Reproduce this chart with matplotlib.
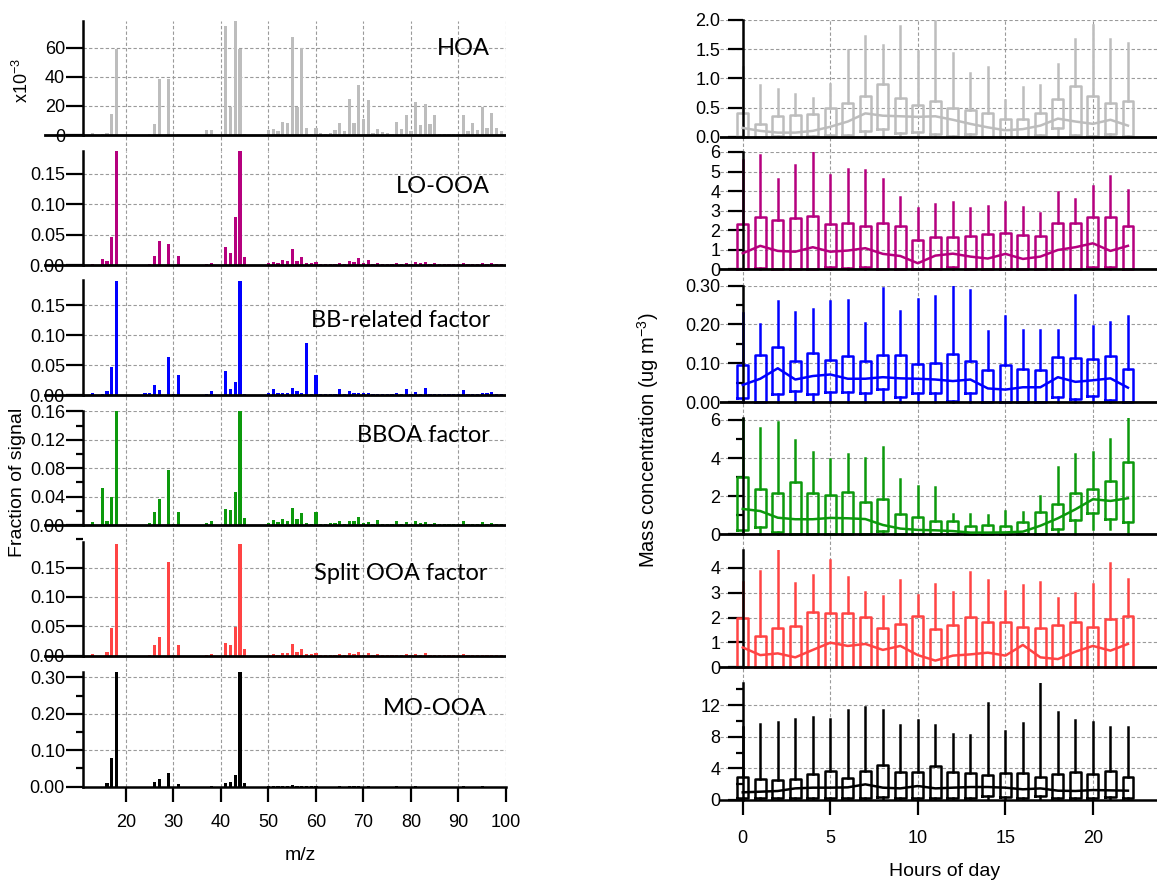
import numpy as np
import matplotlib
matplotlib.use("Agg")
import matplotlib.pyplot as plt
from matplotlib.ticker import MultipleLocator, NullLocator, FormatStrFormatter

plt.rcParams["font.family"] = ["Liberation Sans", "DejaVu Sans"]
plt.rcParams["mathtext.default"] = "regular"

W, H = 1157, 881

# ---------------- mass spectra (m/z 13 .. 99) ----------------
mz = np.arange(13, 100)

hoa = [  # x1e-3
    1.5, 0, 0.5, 1.5, 14.5, 59, 0, 0, 0, 0,
    0, 0, 0.5, 7.5, 38.5, 0, 38.5, 0, 0.5, 0,
    0, 0, 0, 0, 3.5, 3.5, 0, 0, 74.8, 19.5,
    78.5, 58.8, 0.5, 0, 0, 0, 0, 3.5, 4, 2.5,
    9, 8.5, 67.5, 19.5, 60, 5, 0.5, 5, 1.5, 1,
    1.5, 3.5, 8.5, 3, 25, 8, 34.5, 11, 24, 1.5,
    4, 2, 1.5, 0.5, 9, 4, 13.5, 2.5, 22.5, 7,
    21, 7.5, 13.5, 1, 0.5, 0.5, 1, 1, 13.5, 3,
    8.5, 3.5, 19, 4.5, 15, 4.5, 3,
]
lo_ooa = [
    0.001, 0, 0.010, 0.006, 0.046, 0.187, 0, 0, 0, 0,
    0, 0, 0.002, 0.015, 0.040, 0, 0.034, 0, 0.015, 0,
    0, 0, 0, 0, 0.002, 0.004, 0, 0, 0.030, 0.020,
    0.078, 0.187, 0.013, 0, 0, 0, 0, 0.003, 0.005, 0.003,
    0.008, 0.006, 0.027, 0.006, 0.013, 0.003, 0.003, 0.005, 0.001, 0.001,
    0.002, 0.001, 0.004, 0.001, 0.006, 0.005, 0.012, 0.003, 0.008, 0.001,
    0.003, 0.001, 0.001, 0.001, 0.004, 0.002, 0.004, 0.001, 0.005, 0.003,
    0.005, 0.002, 0.004, 0.001, 0.001, 0.001, 0.001, 0.001, 0.004, 0.002,
    0.002, 0.002, 0.004, 0.002, 0.003, 0.002, 0.002,
]
bb_related = [
    0.003, 0, 0.001, 0.006, 0.047, 0.19, 0, 0, 0, 0,
    0, 0.003, 0.003, 0.016, 0.009, 0, 0.064, 0.001, 0.034, 0,
    0, 0, 0, 0, 0.002, 0.006, 0, 0, 0.040, 0.010,
    0.022, 0.19, 0.001, 0, 0, 0, 0, 0.003, 0.010, 0.003,
    0.004, 0.003, 0.012, 0.007, 0.004, 0.086, 0.001, 0.034, 0.001, 0.001,
    0.002, 0.001, 0.010, 0.002, 0.006, 0.004, 0.004, 0.003, 0.003, 0.001,
    0.001, 0.001, 0.002, 0.001, 0.004, 0.002, 0.010, 0.001, 0.005, 0.001,
    0.012, 0.001, 0.001, 0.001, 0.001, 0.001, 0.001, 0.001, 0.008, 0.002,
    0.002, 0.001, 0.003, 0.003, 0.005, 0.001, 0.001,
]
bboa = [
    0.004, 0, 0.052, 0.005, 0.039, 0.16, 0, 0, 0, 0,
    0, 0, 0.003, 0.019, 0.037, 0, 0.078, 0.001, 0.018, 0,
    0, 0, 0, 0, 0.003, 0.005, 0, 0, 0.023, 0.021,
    0.047, 0.16, 0.010, 0, 0, 0, 0, 0.003, 0.007, 0.004,
    0.008, 0.005, 0.024, 0.008, 0.017, 0.003, 0.002, 0.018, 0.001, 0.001,
    0.003, 0.003, 0.006, 0.002, 0.006, 0.005, 0.011, 0.003, 0.004, 0.001,
    0.007, 0.001, 0.001, 0.001, 0.005, 0.002, 0.004, 0.001, 0.005, 0.003,
    0.004, 0.002, 0.003, 0.001, 0.001, 0.001, 0.001, 0.001, 0.005, 0.001,
    0.002, 0.002, 0.004, 0.002, 0.003, 0.001, 0.001,
]
split_ooa = [
    0.003, 0, 0, 0.006, 0.047, 0.19, 0, 0, 0, 0,
    0, 0, 0.002, 0.018, 0.031, 0, 0.16, 0.002, 0.019, 0,
    0, 0, 0, 0, 0.001, 0.003, 0, 0, 0.022, 0.018,
    0.049, 0.19, 0.012, 0, 0, 0, 0, 0.002, 0.003, 0.002,
    0.005, 0.004, 0.020, 0.006, 0.011, 0.003, 0.003, 0.005, 0.001, 0.001,
    0.001, 0.002, 0.003, 0.001, 0.004, 0.003, 0.007, 0.002, 0.005, 0.001,
    0.003, 0.001, 0.001, 0.001, 0.002, 0.001, 0.003, 0.001, 0.003, 0.002,
    0.004, 0.002, 0.002, 0.001, 0.001, 0.001, 0.001, 0.001, 0.003, 0.001,
    0.001, 0.001, 0.002, 0.001, 0.002, 0.001, 0.001,
]
mo_ooa = [
    0, 0, 0, 0.011, 0.080, 0.315, 0, 0, 0, 0,
    0, 0, 0, 0.012, 0.022, 0, 0.038, 0, 0.008, 0,
    0, 0, 0, 0, 0, 0.001, 0, 0, 0.009, 0.012,
    0.032, 0.315, 0.010, 0, 0, 0, 0, 0.001, 0.001, 0.001,
    0.002, 0.002, 0.006, 0.002, 0.001, 0.001, 0.001, 0.001, 0, 0,
    0, 0, 0.001, 0, 0.001, 0.001, 0.001, 0, 0.001, 0,
    0, 0, 0, 0, 0.001, 0, 0, 0, 0.001, 0,
    0, 0, 0, 0, 0, 0, 0, 0, 0.001, 0,
    0, 0, 0.001, 0, 0, 0, 0,
]

factor_names = ["HOA", "LO-OOA", "BB-related factor", "BBOA factor",
                "Split OOA factor", "MO-OOA"]
factor_colors = ["#bdbdbd", "#b5007e", "#0000ff", "#0c990c", "#ff4444", "#000000"]
spectra = [hoa, lo_ooa, bb_related, bboa, split_ooa, mo_ooa]

# ---------------- diurnal box plots (hours 0 .. 22) ----------------
hours = np.arange(0, 23)

hoa_q1 = [0.0, 0.0, 0.01, 0.0, 0.01, 0.03, 0.03, 0.10, 0.13, 0.07, 0.08, 0.05,
          0.01, 0.05, 0.0, 0.0, 0.0, 0.03, 0.15, 0.03, 0.01, 0.04, 0.02]
hoa_q3 = [0.40, 0.22, 0.35, 0.37, 0.39, 0.50, 0.58, 0.70, 0.90, 0.66, 0.55, 0.61,
          0.50, 0.46, 0.40, 0.30, 0.31, 0.40, 0.64, 0.87, 0.69, 0.58, 0.61]
hoa_hi = [1.20, 0.89, 0.81, 0.74, 0.66, 0.91, 1.49, 1.73, 1.57, 1.89, 1.47, 1.99,
          1.43, 1.10, 1.19, 0.63, 0.86, 0.88, 1.24, 1.67, 1.91, 1.67, 1.61]
hoa_mid = [0.15, 0.10, 0.07, 0.07, 0.10, 0.17, 0.26, 0.40, 0.36, 0.35, 0.34, 0.35,
           0.29, 0.22, 0.16, 0.11, 0.13, 0.19, 0.31, 0.26, 0.22, 0.29, 0.19]

lo_q1 = [0.0, 0.08, 0.0, 0.0, 0.0, 0.10, 0.07, 0.10, 0.0, 0.0, 0.0, 0.0,
         0.10, 0.0, 0.0, 0.03, 0.0, 0.0, 0.0, 0.0, 0.14, 0.14, 0.0]
lo_q3 = [2.32, 2.67, 2.51, 2.62, 2.73, 2.34, 2.38, 2.20, 2.36, 2.19, 1.49, 1.66,
         1.66, 1.71, 1.83, 1.85, 1.78, 1.68, 2.36, 2.36, 2.70, 2.65, 2.22]
lo_hi = [5.60, 5.86, 4.63, 5.32, 5.98, 4.80, 5.13, 5.09, 4.62, 3.69, 3.13, 3.33,
         3.44, 3.13, 3.26, 3.42, 3.21, 2.87, 3.93, 3.61, 4.24, 4.79, 4.07]
lo_mid = [0.82, 1.20, 0.94, 0.90, 1.13, 0.90, 0.96, 1.08, 0.79, 0.68, 0.31, 0.70,
          0.80, 0.65, 0.55, 0.79, 0.53, 0.65, 0.99, 1.13, 1.33, 0.94, 1.20]

bb_q1 = [0.010, 0.0, 0.021, 0.029, 0.021, 0.026, 0.026, 0.023, 0.034, 0.012, 0.022, 0.023,
         0.003, 0.023, 0.0, 0.0, 0.0, 0.0, 0.012, 0.007, 0.015, 0.006, 0.0]
bb_q3 = [0.095, 0.121, 0.143, 0.107, 0.127, 0.108, 0.119, 0.107, 0.121, 0.120, 0.098, 0.100,
         0.125, 0.105, 0.083, 0.095, 0.086, 0.083, 0.117, 0.114, 0.112, 0.119, 0.084]
bb_hi = [0.229, 0.202, 0.260, 0.233, 0.241, 0.261, 0.262, 0.205, 0.293, 0.235, 0.266, 0.273,
         0.299, 0.290, 0.184, 0.222, 0.187, 0.185, 0.185, 0.276, 0.197, 0.207, 0.222]
bb_mid = [0.044, 0.060, 0.087, 0.058, 0.067, 0.071, 0.060, 0.060, 0.064, 0.061, 0.060, 0.058,
          0.054, 0.058, 0.035, 0.032, 0.038, 0.038, 0.064, 0.052, 0.056, 0.061, 0.037]

bboa_q1 = [0.21, 0.40, 0.12, 0.0, 0.0, 0.0, 0.03, 0.0, 0.19, 0.0, 0.0, 0.0,
           0.0, 0.0, 0.0, 0.0, 0.0, 0.0, 0.26, 0.75, 1.10, 0.80, 0.63]
bboa_q3 = [3.02, 2.40, 2.19, 2.76, 2.19, 2.06, 2.24, 1.71, 1.84, 1.05, 0.91, 0.72,
           0.70, 0.44, 0.49, 0.45, 0.63, 1.17, 1.57, 2.15, 2.36, 2.80, 3.78]
bboa_hi = [6.08, 5.60, 5.87, 4.95, 4.30, 3.95, 4.21, 3.99, 4.60, 2.88, 2.52, 2.50,
           1.05, 1.05, 1.01, 1.22, 1.15, 2.03, 3.55, 4.20, 4.34, 4.98, 6.08]
bboa_lo = [0.0, 0.0, 0.0, 0.0, 0.0, 0.0, 0.0, 0.0, 0.0, 0.0, 0.0, 0.0,
           0.0, 0.0, 0.0, 0.0, 0.0, 0.0, 0.0, 0.0, 0.30, 0.30, 0.0]
bboa_mid = [1.33, 1.22, 0.87, 0.79, 0.79, 0.86, 0.84, 0.80, 0.49, 0.30, 0.23, 0.21,
            0.17, 0.09, 0.09, 0.10, 0.14, 0.45, 0.84, 1.31, 1.84, 1.75, 1.89]

sp_q1 = [0.0] * 23
sp_q3 = [1.97, 1.27, 1.59, 1.65, 2.22, 2.17, 2.18, 2.02, 1.59, 1.74, 2.07, 1.54,
         1.70, 2.03, 1.83, 1.82, 1.63, 1.59, 1.69, 1.83, 1.63, 1.93, 2.07]
sp_hi = [3.44, 3.87, 4.71, 3.41, 3.71, 4.31, 3.63, 3.04, 2.88, 3.50, 2.90, 3.34,
         3.01, 3.84, 3.53, 3.08, 3.33, 3.44, 2.77, 2.97, 3.37, 4.21, 3.55]
sp_mid = [0.80, 0.49, 0.56, 0.40, 0.70, 0.99, 0.86, 0.94, 0.70, 0.86, 0.49, 0.27,
          0.47, 0.52, 0.59, 0.47, 0.90, 0.40, 0.33, 0.63, 0.86, 0.67, 0.94]

mo_q1 = [0.20, 0.20, 0.20, 0.25, 0.30, 0.30, 0.25, 0.30, 0.35, 0.30, 0.25, 0.30,
         0.30, 0.30, 0.50, 0.40, 0.25, 0.50, 0.25, 0.30, 0.25, 0.40, 0.20]
mo_q3 = [2.86, 2.61, 2.53, 2.65, 3.33, 3.66, 2.74, 3.70, 4.42, 3.58, 3.54, 4.34,
         3.49, 3.45, 3.12, 3.37, 3.37, 2.95, 3.24, 3.49, 3.33, 3.66, 2.90]
mo_hi = [9.26, 9.56, 9.81, 10.23, 10.53, 10.23, 11.37, 11.79, 11.37, 9.47, 10.10, 9.47,
         8.34, 8.21, 12.21, 8.72, 9.68, 14.74, 11.07, 10.10, 9.81, 9.26, 9.18]
mo_mid = [0.97, 1.05, 1.14, 1.47, 1.56, 1.56, 1.60, 1.98, 1.56, 1.47, 1.77, 1.47,
          1.56, 1.64, 1.64, 1.56, 1.35, 1.47, 1.18, 1.14, 1.26, 1.22, 1.18]

diurnal = [
    (hoa_q1, hoa_q3, [0.0] * 23, hoa_hi, hoa_mid),
    (lo_q1, lo_q3, [0.0] * 23, lo_hi, lo_mid),
    (bb_q1, bb_q3, [0.0] * 23, bb_hi, bb_mid),
    (bboa_q1, bboa_q3, bboa_lo, bboa_hi, bboa_mid),
    (sp_q1, sp_q3, [0.0] * 23, sp_hi, sp_mid),
    (mo_q1, mo_q3, [0.0] * 23, mo_hi, mo_mid),
]

# ---------------- layout (pixel rows: top, zero line, bottom) ----------------
left_rows = [(20.7, 135, 151), (151, 265, 280), (280, 395, 411),
             (411, 525, 541.7), (541.7, 655.7, 672), (672, 786.7, 786.7)]
left_ytop = [78.6, 0.187, 0.192, 0.1605, 0.194, 0.315]
left_major = [20, 0.05, 0.05, 0.04, 0.05, 0.10]
left_minor = [None, None, None, 0.02, None, 0.05]
left_fmt = ["%d", "%.2f", "%.2f", "%.2f", "%.2f", "%.2f"]
label_xy = [(490, 55), (490, 193), (490, 327), (490, 442), (487, 580), (487, 715)]

right_rows = [(20, 136.7, 152), (152, 269.3, 285.7), (285.7, 402, 418),
              (418, 534.3, 550), (550, 667.3, 683), (683, 800, 800)]
right_ytop = [2.0, 6.0, 0.30, 6.1, 4.72, 14.8]
right_major = [0.5, 1, 0.10, 2, 1, 4]
right_minor = [None, None, 0.05, 1, None, 2]
right_fmt = ["%.1f", "%d", "%.2f", "%d", "%d", "%d"]

GRID = dict(color="#9a9a9a", linestyle=(0, (3, 2)), linewidth=0.8)


def add_px_axes(fig, x0, x1, y_top, y_bot):
    return fig.add_axes([x0 / W, 1 - y_bot / H, (x1 - x0) / W, (y_bot - y_top) / H])


def style_axis(ax, row, ytop, major, minor, fmt, bottom, tick_len, pad, xpad):
    y_top, y_zero, y_bot = row
    ybot = -ytop * (y_bot - y_zero) / (y_zero - y_top)
    ax.set_ylim(ybot, ytop)
    for s in ["top", "right"]:
        ax.spines[s].set_visible(False)
    ax.spines["left"].set_linewidth(1.8)
    ax.spines["left"].set_bounds(0, ytop)
    ax.yaxis.set_major_locator(MultipleLocator(major))
    ax.yaxis.set_major_formatter(FormatStrFormatter(fmt))
    if minor:
        ax.yaxis.set_minor_locator(MultipleLocator(minor))
    else:
        ax.yaxis.set_minor_locator(NullLocator())
    ax.tick_params(axis="y", which="major", direction="out", length=tick_len,
                   width=1.6, labelsize=13, pad=pad)
    ax.tick_params(axis="y", which="minor", direction="out", length=5, width=1.6)
    ax.grid(True, which="major", **GRID)
    ax.set_axisbelow(True)
    if bottom:
        ax.spines["bottom"].set_linewidth(1.8)
        ax.tick_params(axis="x", which="major", direction="out", length=11,
                       width=1.6, labelsize=13, pad=xpad)
    else:
        ax.spines["bottom"].set_visible(False)
        ax.tick_params(axis="x", length=0, labelbottom=False)
        ax.axhline(0, color="black", lw=2, zorder=3)


fig = plt.figure(figsize=(W / 100, H / 100), dpi=100)

# left column: factor mass spectra
for i in range(6):
    ax = add_px_axes(fig, 83, 506, left_rows[i][0], left_rows[i][2])
    ax.bar(mz, spectra[i], width=0.7, color=factor_colors[i], linewidth=0, zorder=2)
    ax.set_xlim(10.95, 100)
    ax.xaxis.set_major_locator(MultipleLocator(10))
    style_axis(ax, left_rows[i], left_ytop[i], left_major[i], left_minor[i],
               left_fmt[i], i == 5, 12, 1, 9)
    if i < 5:
        ax.plot([-0.09, 0], [0, 0], transform=ax.get_yaxis_transform(),
                color="black", lw=2, clip_on=False)
    lx, ly = label_xy[i]
    fig.text(lx / W, 1 - ly / H, factor_names[i], ha="right", va="baseline",
             fontsize=17, family=["Lato", "DejaVu Sans"])

# right column: diurnal box plots
for i in range(6):
    ax = add_px_axes(fig, 720, 1157, right_rows[i][0], right_rows[i][2])
    q1, q3, lo, hi, mid = diurnal[i]
    c = factor_colors[i]
    stats = [dict(med=mid[h], q1=q1[h], q3=q3[h], whislo=lo[h], whishi=hi[h])
             for h in range(len(hours))]
    ax.bxp(stats, positions=hours, widths=0.62, showcaps=False, showfliers=False,
           manage_ticks=False,
           boxprops=dict(color=c, linewidth=1.8),
           whiskerprops=dict(color=c, linewidth=1.8),
           medianprops=dict(linewidth=0))
    ax.plot(hours, mid, color=c, lw=1.8, zorder=4)
    ax.set_xlim(-1.3, 23.66)
    ax.spines["left"].set_position(("data", 0))
    ax.xaxis.set_major_locator(MultipleLocator(5))
    style_axis(ax, right_rows[i], right_ytop[i], right_major[i], right_minor[i],
               right_fmt[i], i == 5, 11, 5, 10.5)

fig.text(18 / W, 1 - 482 / H, "Fraction of signal", rotation=90,
         ha="center", va="center", fontsize=14)
fig.text(22 / W, 1 - 80 / H, "x10$^{-3}$", rotation=90,
         ha="center", va="center", fontsize=13)
fig.text(648 / W, 1 - 440 / H, "Mass concentration (ug m$^{-3}$)", rotation=90,
         ha="center", va="center", fontsize=14.5)
fig.text(300 / W, 1 - 856 / H, "m/z", ha="center", va="center", fontsize=14)
fig.text(945 / W, 1 - 872 / H, "Hours of day", ha="center", va="center", fontsize=14)

fig.savefig("out.png", dpi=100)
